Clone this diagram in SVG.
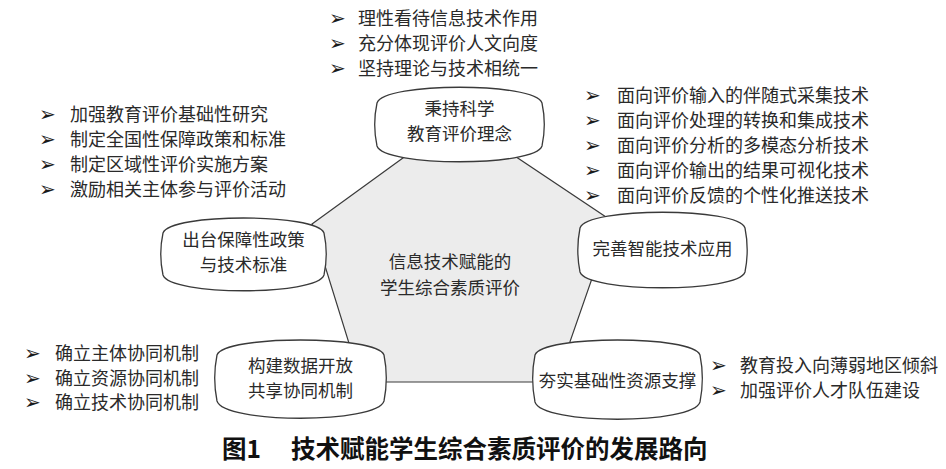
<svg xmlns="http://www.w3.org/2000/svg" width="946" height="469" viewBox="0 0 946 469">
<style>
.bg{fill:#ffffff}
.hub{fill:#ececec;stroke:#3a3a3a;stroke-width:1.2}
.node{fill:#ffffff;stroke:#3a3a3a;stroke-width:1.3}
.t{font-family:"Noto Sans CJK SC","Noto Sans CJK JP",sans-serif;font-size:17.5px;fill:#2a2a2a;font-weight:400}
.l{font-size:18px}
.c{text-anchor:middle}
.b{font-family:"DejaVu Sans",sans-serif;font-size:20px;fill:#1a1a1a}
.cap{font-family:"Noto Sans CJK SC","Noto Sans CJK JP",sans-serif;font-size:24.5px;font-weight:700;fill:#111}
</style>
<rect class="bg" x="0" y="0" width="946" height="469"/>

<g id="center">
  <polygon class="hub" points="458,118 612,221 556,382 361,382 312,224"/>
  <text class="t c" x="450" y="268">信息技术赋能的</text>
  <text class="t c" x="450" y="294">学生综合素质评价</text>
</g>

<g id="node-top">
  <path class="node" d="M377,103 C384,82 535,82 542,103 C545,117 545,132 542,146 C535,167 384,167 377,146 C374,132 374,117 377,103 Z"/>
  <text class="t c" x="459.5" y="115">秉持科学</text>
  <text class="t c" x="459.5" y="140">教育评价理念</text>
</g>

<g id="node-left">
  <path class="node" d="M163,233 C170,213 317,213 324,233 C327,247 327,261 324,275 C317,296 170,296 163,275 C160,261 160,247 163,233 Z"/>
  <text class="t c" x="243.5" y="246">出台保障性政策</text>
  <text class="t c" x="243.5" y="271">与技术标准</text>
</g>

<g id="node-right">
  <path class="node" d="M580,228 C587,207 738,207 745,228 C748,243 748,257 745,272 C738,293 587,293 580,272 C577,257 577,243 580,228 Z"/>
  <text class="t c" x="662.5" y="255">完善智能技术应用</text>
</g>

<g id="node-bottom-left">
  <path class="node" d="M217,355 C224,335 377,335 384,355 C387,370 387,386 384,401 C377,424 224,424 217,401 C214,386 214,370 217,355 Z"/>
  <text class="t c" x="300.5" y="372">构建数据开放</text>
  <text class="t c" x="300.5" y="397">共享协同机制</text>
</g>

<g id="node-bottom-right">
  <path class="node" d="M535,355 C542,335 693,335 700,355 C703,370 703,387 700,402 C693,425 542,425 535,402 C532,387 532,370 535,355 Z"/>
  <text class="t c" x="617.5" y="387">夯实基础性资源支撑</text>
</g>

<g id="list-top">
  <text class="b" x="329" y="25">➢</text>
  <text class="t l" x="358" y="25">理性看待信息技术作用</text>
  <text class="b" x="329" y="50">➢</text>
  <text class="t l" x="358" y="50">充分体现评价人文向度</text>
  <text class="b" x="329" y="75">➢</text>
  <text class="t l" x="358" y="75">坚持理论与技术相统一</text>
</g>

<g id="list-left">
  <text class="b" x="39" y="121">➢</text>
  <text class="t l" x="70" y="121">加强教育评价基础性研究</text>
  <text class="b" x="39" y="146">➢</text>
  <text class="t l" x="70" y="146">制定全国性保障政策和标准</text>
  <text class="b" x="39" y="171">➢</text>
  <text class="t l" x="70" y="171">制定区域性评价实施方案</text>
  <text class="b" x="39" y="196">➢</text>
  <text class="t l" x="70" y="196">激励相关主体参与评价活动</text>
</g>

<g id="list-right">
  <text class="b" x="584" y="102">➢</text>
  <text class="t l" x="617" y="102">面向评价输入的伴随式采集技术</text>
  <text class="b" x="584" y="127">➢</text>
  <text class="t l" x="617" y="127">面向评价处理的转换和集成技术</text>
  <text class="b" x="584" y="152">➢</text>
  <text class="t l" x="617" y="152">面向评价分析的多模态分析技术</text>
  <text class="b" x="584" y="177">➢</text>
  <text class="t l" x="617" y="177">面向评价输出的结果可视化技术</text>
  <text class="b" x="584" y="202">➢</text>
  <text class="t l" x="617" y="202">面向评价反馈的个性化推送技术</text>
</g>

<g id="list-bottom-left">
  <text class="b" x="24" y="360">➢</text>
  <text class="t l" x="55" y="360">确立主体协同机制</text>
  <text class="b" x="24" y="385">➢</text>
  <text class="t l" x="55" y="385">确立资源协同机制</text>
  <text class="b" x="24" y="409">➢</text>
  <text class="t l" x="55" y="409">确立技术协同机制</text>
</g>

<g id="list-bottom-right">
  <text class="b" x="710" y="372">➢</text>
  <text class="t l" x="740" y="372">教育投入向薄弱地区倾斜</text>
  <text class="b" x="710" y="397">➢</text>
  <text class="t l" x="740" y="397">加强评价人才队伍建设</text>
</g>

<g id="caption">
  <text class="cap" x="222" y="458">图1</text>
  <text class="cap" x="291" y="458">技术赋能学生综合素质评价的发展路向</text>
</g>
</svg>
